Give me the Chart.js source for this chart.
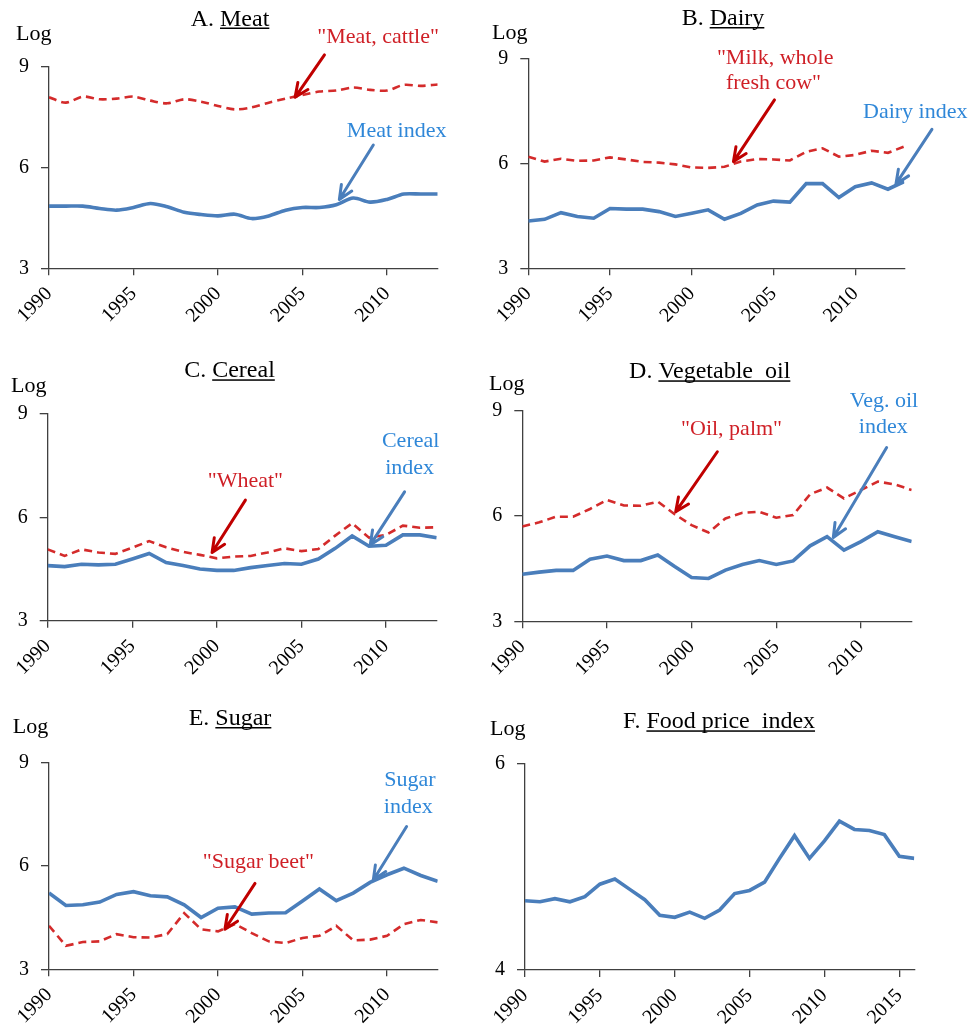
<!DOCTYPE html>
<html>
<head>
<meta charset="utf-8">
<script src="https://cdn.jsdelivr.net/npm/chart.js@4.4.1/dist/chart.umd.min.js"></script>
<style>
html, body { margin: 0; padding: 0; background: #ffffff; }
#wrap { position: relative; width: 970px; height: 1031px; }
.panel { position: absolute; }
.panel canvas { display: block; }
</style>
</head>
<body>
<div id="wrap">
  <div class="panel" style="left:0;top:0"><canvas id="cA" width="485" height="345"></canvas></div>
  <div class="panel" style="left:485px;top:0"><canvas id="cB" width="485" height="345"></canvas></div>
  <div class="panel" style="left:0;top:345px"><canvas id="cC" width="485" height="345"></canvas></div>
  <div class="panel" style="left:485px;top:345px"><canvas id="cD" width="485" height="345"></canvas></div>
  <div class="panel" style="left:0;top:690px"><canvas id="cE" width="485" height="341"></canvas></div>
  <div class="panel" style="left:485px;top:690px"><canvas id="cF" width="485" height="341"></canvas></div>
</div>
<script>
// Years on the horizontal axis
const years = [1990, 1991, 1992, 1993, 1994, 1995, 1996, 1997, 1998, 1999, 2000, 2001,
               2002, 2003, 2004, 2005, 2006, 2007, 2008, 2009, 2010, 2011, 2012, 2013];
const yearsFood = [1990, 1991, 1992, 1993, 1994, 1995, 1996, 1997, 1998, 1999, 2000, 2001,
                   2002, 2003, 2004, 2005, 2006, 2007, 2008, 2009, 2010, 2011, 2012, 2013,
                   2014, 2015, 2016];

// Log prices
const meatCattle = [8.09, 7.93, 8.11, 8.03, 8.05, 8.11, 7.99, 7.91, 8.03, 7.96, 7.83, 7.73,
                    7.79, 7.93, 8.05, 8.16, 8.26, 8.29, 8.38, 8.31, 8.29, 8.46, 8.43, 8.47];
const meatIndex  = [4.85, 4.85, 4.85, 4.78, 4.73, 4.81, 4.93, 4.83, 4.67, 4.60, 4.56, 4.61,
                    4.48, 4.56, 4.73, 4.81, 4.81, 4.89, 5.09, 4.97, 5.05, 5.21, 5.21, 5.21];

const milkCow    = [6.19, 6.05, 6.13, 6.07, 6.08, 6.17, 6.11, 6.04, 6.02, 5.97, 5.88, 5.87,
                    5.90, 6.05, 6.12, 6.11, 6.08, 6.33, 6.43, 6.19, 6.24, 6.36, 6.30, 6.48];
const dairyIndex = [4.35, 4.40, 4.59, 4.48, 4.43, 4.71, 4.69, 4.69, 4.62, 4.48, 4.57, 4.67,
                    4.40, 4.57, 4.81, 4.92, 4.89, 5.42, 5.42, 5.02, 5.33, 5.44, 5.26, 5.48];

const wheat       = [5.07, 4.88, 5.07, 4.98, 4.94, 5.12, 5.31, 5.13, 5.00, 4.91, 4.81, 4.86,
                     4.88, 4.98, 5.10, 5.02, 5.08, 5.47, 5.83, 5.41, 5.49, 5.76, 5.70, 5.71];
const cerealIndex = [4.60, 4.57, 4.64, 4.62, 4.64, 4.79, 4.95, 4.69, 4.60, 4.50, 4.46, 4.46,
                     4.54, 4.60, 4.66, 4.64, 4.79, 5.10, 5.46, 5.16, 5.19, 5.49, 5.49, 5.41];

const oilPalm    = [5.70, 5.82, 5.98, 5.98, 6.20, 6.46, 6.30, 6.29, 6.41, 6.05, 5.74, 5.53,
                    5.93, 6.09, 6.12, 5.95, 6.03, 6.62, 6.81, 6.50, 6.74, 6.98, 6.90, 6.74];
const vegOilIndex = [4.34, 4.40, 4.45, 4.45, 4.77, 4.86, 4.73, 4.73, 4.89, 4.56, 4.25, 4.22,
                     4.46, 4.62, 4.73, 4.62, 4.72, 5.15, 5.41, 5.03, 5.27, 5.55, 5.41, 5.27];

const sugarIndex = [5.21, 4.85, 4.87, 4.95, 5.17, 5.25, 5.13, 5.10, 4.87, 4.50, 4.77, 4.81,
                    4.60, 4.63, 4.64, 4.98, 5.33, 4.99, 5.21, 5.52, 5.74, 5.93, 5.72, 5.55];
const sugarBeet  = [4.26, 3.68, 3.79, 3.81, 4.02, 3.93, 3.92, 4.02, 4.63, 4.16, 4.10, 4.31,
                    4.05, 3.81, 3.76, 3.91, 3.97, 4.26, 3.84, 3.86, 3.97, 4.31, 4.43, 4.36];

const foodIndex  = [4.67, 4.66, 4.69, 4.66, 4.71, 4.83, 4.88, 4.78, 4.68, 4.53, 4.51, 4.56,
                    4.50, 4.58, 4.74, 4.77, 4.85, 5.08, 5.30, 5.08, 5.25, 5.44, 5.36, 5.35,
                    5.31, 5.10, 5.08];

// Axis ticks
const yTicksMain = [3, 6, 9];
const yTicksFood = [4, 6];

const BLUE = '#4a7ebb';
const BLUE_TEXT = '#2f87d8';
const RED = '#d42b2b';
const RED_TEXT = '#cf1f26';
const RED_ARROW = '#c00000';
const AXIS = '#404040';
const SERIF = '"Liberation Serif", "Times New Roman", serif';

function pts(xs, ys) { return xs.map((x, i) => ({ x: x, y: ys[i] })); }

// Draws panel heading, the "Log" unit label, callout text and arrows
const panelText = {
  id: 'panelText',
  afterDatasetsDraw(chart, args, o) {
    const ctx = chart.ctx, sx = chart.scales.x, sy = chart.scales.y;
    ctx.save();
    (o.arrows || []).forEach(a => {
      const x1 = sx.getPixelForValue(a.from[0]), y1 = sy.getPixelForValue(a.from[1]);
      const x2 = sx.getPixelForValue(a.to[0]), y2 = sy.getPixelForValue(a.to[1]);
      const ang = Math.atan2(y2 - y1, x2 - x1), L = 15, w = 0.42;
      ctx.strokeStyle = a.color; ctx.lineWidth = 3; ctx.lineCap = 'round'; ctx.lineJoin = 'round';
      ctx.beginPath();
      ctx.moveTo(x1, y1); ctx.lineTo(x2, y2);
      ctx.moveTo(x2 - L * Math.cos(ang - w), y2 - L * Math.sin(ang - w));
      ctx.lineTo(x2, y2);
      ctx.lineTo(x2 - L * Math.cos(ang + w), y2 - L * Math.sin(ang + w));
      ctx.stroke();
    });
    ctx.font = '22px ' + SERIF; ctx.textAlign = 'center'; ctx.textBaseline = 'middle';
    (o.notes || []).forEach(n => {
      ctx.fillStyle = n.color;
      ctx.fillText(n.text, sx.getPixelForValue(n.at[0]), sy.getPixelForValue(n.at[1]));
    });
    // unit label
    ctx.fillStyle = '#000'; ctx.textAlign = 'left'; ctx.textBaseline = 'alphabetic';
    ctx.font = '22px ' + SERIF;
    ctx.fillText('Log', o.log[0], o.log[1]);
    // heading with underlined name
    ctx.font = '24px ' + SERIF;
    const pre = o.title[0], name = o.title[1];
    const wPre = ctx.measureText(pre).width, wName = ctx.measureText(name).width;
    const x0 = o.titleAt[0] - (wPre + wName) / 2, yb = o.titleAt[1];
    ctx.fillText(pre, x0, yb);
    ctx.fillText(name, x0 + wPre, yb);
    ctx.fillRect(x0 + wPre, yb + 2, wName, 1.5);
    ctx.restore();
  }
};

function makePanel(id, p) {
  const datasets = p.series.map(s => ({
    data: pts(p.xs, s.values),
    borderColor: s.color,
    borderWidth: s.dashed ? 2.6 : 3.6,
    borderDash: s.dashed ? [8, 5] : [],
    pointRadius: 0,
    tension: p.tension || 0,
    fill: false,
    order: s.dashed ? 1 : 0
  }));
  new Chart(document.getElementById(id), {
    type: 'line',
    data: { datasets: datasets },
    plugins: [panelText],
    options: {
      responsive: false,
      animation: false,
      events: [],
      layout: { padding: { left: 0, right: p.pad.right, top: p.pad.top, bottom: 0 } },
      plugins: {
        legend: { display: false },
        tooltip: { enabled: false },
        panelText: { title: p.title, titleAt: p.titleAt, log: p.log, notes: p.notes || [], arrows: p.arrows || [] }
      },
      scales: {
        x: {
          type: 'linear', min: p.xs[0], max: p.xs[p.xs.length - 1],
          afterFit: s => { s.height = p.pad.xh; },
          afterBuildTicks: s => { s.ticks = p.xs.filter(v => v % 5 === 0).map(v => ({ value: v })); },
          grid: { drawOnChartArea: false, drawTicks: true, tickLength: 7, color: AXIS, lineWidth: 1.3 },
          border: { display: true, color: AXIS, width: 1.3 },
          ticks: {
            maxRotation: 45, minRotation: 45, padding: 7, color: '#000',
            font: { family: SERIF, size: 20 },
            callback: v => String(v)
          }
        },
        y: {
          min: p.yTicks[0], max: p.yTicks[p.yTicks.length - 1],
          afterFit: s => { s.width = p.pad.yw; },
          afterBuildTicks: s => { s.ticks = p.yTicks.map(v => ({ value: v })); },
          grid: { drawOnChartArea: false, drawTicks: true, tickLength: 8, color: AXIS, lineWidth: 1.3 },
          border: { display: true, color: AXIS, width: 1.3 },
          ticks: { padding: 12, color: '#000', font: { family: SERIF, size: 20 }, callback: v => String(v) }
        }
      }
    }
  });
}

makePanel('cA', {
  xs: years, yTicks: yTicksMain, tension: 0.3,
  pad: { yw: 49, right: 47.3, top: 66.7, xh: 76.7 },
  title: ['A. ', 'Meat'], titleAt: [230, 25.5], log: [16, 40],
  series: [{ values: meatCattle, color: RED, dashed: true }, { values: meatIndex, color: BLUE }],
  notes: [{ text: '"Meat, cattle"', at: [2009.47, 9.88], color: RED_TEXT },
          { text: 'Meat index', at: [2010.57, 7.07], color: BLUE_TEXT }],
  arrows: [{ from: [2006.3, 9.35], to: [2004.56, 8.09], color: RED_ARROW },
           { from: [2009.19, 6.67], to: [2007.18, 5.05], color: BLUE }]
});

makePanel('cB', {
  xs: years, yTicks: yTicksMain,
  pad: { yw: 43.3, right: 65.7, top: 58.3, xh: 76.7 },
  title: ['B. ', 'Dairy'], titleAt: [238, 25], log: [7, 38.5],
  series: [{ values: milkCow, color: RED, dashed: true }, { values: dairyIndex, color: BLUE }],
  notes: [{ text: '"Milk, whole', at: [2005.1, 9.0], color: RED_TEXT },
          { text: 'fresh cow"', at: [2005.0, 8.29], color: RED_TEXT },
          { text: 'Dairy index', at: [2013.67, 7.46], color: BLUE_TEXT }],
  arrows: [{ from: [2005.06, 7.81], to: [2002.55, 6.05], color: RED_ARROW },
           { from: [2014.69, 6.97], to: [2012.49, 5.41], color: BLUE }]
});

makePanel('cC', {
  xs: years, yTicks: yTicksMain,
  pad: { yw: 47.7, right: 48.3, top: 69, xh: 69.3 },
  title: ['C. ', 'Cereal'], titleAt: [229.5, 32.3], log: [11, 46.5],
  series: [{ values: wheat, color: RED, dashed: true }, { values: cerealIndex, color: BLUE }],
  notes: [{ text: '"Wheat"', at: [2001.69, 7.05], color: RED_TEXT },
          { text: 'Cereal', at: [2011.46, 8.2], color: BLUE_TEXT },
          { text: 'index', at: [2011.4, 7.42], color: BLUE_TEXT }],
  arrows: [{ from: [2001.69, 6.5], to: [1999.72, 4.98], color: RED_ARROW },
           { from: [2011.1, 6.74], to: [2009.07, 5.2], color: BLUE }]
});

makePanel('cD', {
  xs: years, yTicks: yTicksMain,
  pad: { yw: 37.3, right: 58.3, top: 65.7, xh: 68.7 },
  title: ['D. ', 'Vegetable  oil'], titleAt: [224.7, 33.3], log: [4, 45],
  series: [{ values: oilPalm, color: RED, dashed: true }, { values: vegOilIndex, color: BLUE }],
  notes: [{ text: '"Oil, palm"', at: [2002.36, 8.48], color: RED_TEXT },
          { text: 'Veg. oil', at: [2011.36, 9.28], color: BLUE_TEXT },
          { text: 'index', at: [2011.32, 8.54], color: BLUE_TEXT }],
  arrows: [{ from: [2001.52, 7.83], to: [1999.06, 6.12], color: RED_ARROW },
           { from: [2011.52, 7.95], to: [2008.37, 5.39], color: BLUE }]
});

makePanel('cE', {
  xs: years, yTicks: yTicksMain,
  pad: { yw: 49, right: 47.3, top: 72.3, xh: 61.7 },
  title: ['E. ', 'Sugar'], titleAt: [230, 35], log: [12.7, 43.3],
  series: [{ values: sugarBeet, color: RED, dashed: true }, { values: sugarIndex, color: BLUE }],
  notes: [{ text: '"Sugar beet"', at: [2002.39, 6.09], color: RED_TEXT },
          { text: 'Sugar', at: [2011.36, 8.47], color: BLUE_TEXT },
          { text: 'index', at: [2011.26, 7.71], color: BLUE_TEXT }],
  arrows: [{ from: [2002.19, 5.49], to: [2000.41, 4.16], color: RED_ARROW },
           { from: [2011.16, 7.14], to: [2009.19, 5.59], color: BLUE }]
});

makePanel('cF', {
  xs: yearsFood, yTicks: yTicksFood,
  pad: { yw: 40, right: 55.7, top: 73.3, xh: 61 },
  title: ['F. ', 'Food price  index'], titleAt: [234, 38.3], log: [5, 45],
  series: [{ values: foodIndex, color: BLUE }]
});
</script>
</body>
</html>
